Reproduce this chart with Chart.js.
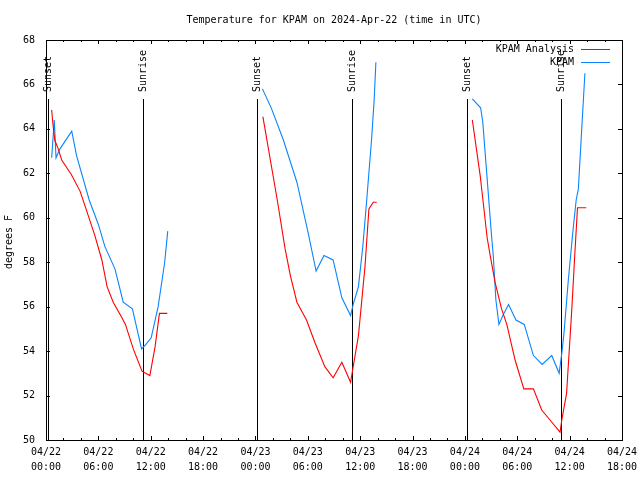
<!DOCTYPE html>
<html lang="en">
<head>
<meta charset="UTF-8">
<title>Temperature for KPAM</title>
<script src="https://cdn.jsdelivr.net/npm/chart.js"></script>
<style>
  body { margin: 0; background: #fff; }
  #chart { display: block; }
</style>
</head>
<body>
<canvas id="chart" width="640" height="480"></canvas>
<script>
  // hours since 04/22 00:00 UTC, temps in F
  const analysisHours1 = [0.65, 0.8, 1.0, 1.4, 1.8, 2.9, 3.9, 4.5, 5.6, 6.4, 7.0, 7.7, 8.7, 9.1, 10.0, 11.0, 11.9, 12.5, 13.0, 13.9];
  const analysisTemps1 = [64.85, 64.2, 63.5, 63.1, 62.6, 61.95, 61.2, 60.5, 59.2, 58.1, 56.9, 56.2, 55.5, 55.2, 54.1, 53.1, 52.9, 54.2, 55.7, 55.7];
  const analysisHours2 = [24.85, 26.5, 27.4, 28.0, 28.75, 29.85, 30.8, 31.95, 32.9, 33.9, 34.9, 35.2, 35.8, 36.55, 37.0, 37.5, 37.9];
  const analysisTemps2 = [64.55, 60.8, 58.6, 57.4, 56.2, 55.4, 54.4, 53.3, 52.8, 53.5, 52.6, 53.3, 54.7, 57.8, 60.4, 60.7, 60.7];
  const analysisHours3 = [48.85, 49.75, 50.55, 50.9, 51.45, 52.2, 52.8, 53.75, 54.75, 55.85, 56.8, 57.75, 58.9, 59.1, 59.65, 60.25, 60.6, 60.9, 61.9];
  const analysisTemps3 = [64.4, 61.9, 59.1, 58.3, 57.1, 55.9, 55.2, 53.6, 52.3, 52.3, 51.35, 50.9, 50.35, 50.9, 52.1, 55.9, 58.4, 60.45, 60.45];

  const obsHours1 = [0.65, 0.95, 1.15, 1.6, 2.95, 3.5, 4.95, 6.0, 6.75, 7.9, 8.85, 9.9, 10.95, 11.45, 12.05, 12.85, 13.6, 13.95];
  const obsTemps1 = [62.7, 64.4, 62.7, 63.1, 63.9, 62.8, 60.8, 59.7, 58.7, 57.7, 56.2, 55.9, 54.1, 54.3, 54.6, 56.0, 58.0, 59.4];
  const obsHours2 = [24.8, 25.85, 27.2, 28.75, 30.05, 30.95, 31.85, 32.9, 33.9, 34.9, 35.2, 35.8, 36.3, 36.75, 37.3, 37.6, 37.8];
  const obsTemps2 = [65.8, 64.9, 63.5, 61.6, 59.3, 57.6, 58.3, 58.1, 56.4, 55.6, 56.1, 56.9, 58.7, 60.8, 63.5, 65.3, 67.0];
  const obsHours3 = [48.85, 49.8, 50.05, 50.5, 51.05, 51.25, 51.55, 51.9, 52.35, 53.0, 53.85, 54.8, 55.85, 56.85, 57.95, 58.8, 59.1, 59.35, 59.85, 60.35, 60.75, 61.0, 61.4, 61.75];
  const obsTemps3 = [65.35, 64.95, 64.3, 62.0, 59.2, 58.3, 56.3, 55.2, 55.6, 56.1, 55.4, 55.2, 53.8, 53.4, 53.8, 53.0, 53.9, 54.8, 57.2, 59.3, 60.8, 61.3, 64.1, 66.5];

  const sunHours = [0.2, 11.15, 24.2, 35.1, 48.2, 59.05];
  const sunLabels = ['Sunset', 'Sunrise', 'Sunset', 'Sunrise', 'Sunset', 'Sunrise'];

  const xTickDates = ['04/22', '04/22', '04/22', '04/22', '04/23', '04/23', '04/23', '04/23', '04/24', '04/24', '04/24', '04/24'];
  const xTickTimes = ['00:00', '06:00', '12:00', '18:00', '00:00', '06:00', '12:00', '18:00', '00:00', '06:00', '12:00', '18:00'];

  const FONT = '"DejaVu Sans Mono", "Liberation Mono", monospace';

  // join segments with a null point so the line breaks between days
  function joinSegments(pairs) {
    const out = [];
    pairs.forEach(([hrs, temps], i) => {
      if (i > 0) out.push({ x: hrs[0] - 0.01, y: null });
      hrs.forEach((h, j) => out.push({ x: h, y: temps[j] }));
    });
    return out;
  }

  const gnuplotLook = {
    id: 'gnuplotLook',
    beforeDatasetsDraw(chart) {
      const { ctx, chartArea: a, scales: { x } } = chart;
      ctx.save();
      ctx.strokeStyle = '#000';
      ctx.fillStyle = '#000';
      ctx.lineWidth = 1;
      ctx.font = '10px ' + FONT;
      sunHours.forEach((h, i) => {
        const px = Math.round(x.getPixelForValue(h)) + 0.5;
        ctx.beginPath();
        ctx.moveTo(px, 99);
        ctx.lineTo(px, a.bottom);
        ctx.stroke();
        ctx.save();
        ctx.translate(px, 92);
        ctx.rotate(-Math.PI / 2);
        ctx.textAlign = 'left';
        ctx.textBaseline = 'middle';
        ctx.fillText(sunLabels[i], 0, 0);
        ctx.restore();
      });
      ctx.restore();
    },
    afterDraw(chart) {
      const { ctx, chartArea: a, scales: { x, y } } = chart;
      ctx.save();
      ctx.strokeStyle = '#000';
      ctx.fillStyle = '#000';
      ctx.lineWidth = 1;

      // frame
      ctx.strokeRect(a.left + 0.5, a.top + 0.5, a.right - a.left, a.bottom - a.top);

      // inward ticks, mirrored
      ctx.beginPath();
      for (let h = 0; h <= 66; h += 2) {
        const px = Math.round(x.getPixelForValue(h)) + 0.5;
        const len = h % 6 === 0 ? 4 : 2;
        ctx.moveTo(px, a.bottom);
        ctx.lineTo(px, a.bottom - len);
        ctx.moveTo(px, a.top);
        ctx.lineTo(px, a.top + len);
      }
      for (let v = 50; v <= 68; v += 2) {
        const py = Math.round(y.getPixelForValue(v)) + 0.5;
        ctx.moveTo(a.left, py);
        ctx.lineTo(a.left + 4, py);
        ctx.moveTo(a.right, py);
        ctx.lineTo(a.right - 4, py);
      }
      ctx.stroke();

      ctx.font = '10px ' + FONT;
      // title
      ctx.textAlign = 'center';
      ctx.textBaseline = 'middle';
      ctx.fillText('Temperature for KPAM on 2024-Apr-22 (time in UTC)', (a.left + a.right) / 2, 20);

      // y axis title
      ctx.save();
      ctx.translate(9, 242);
      ctx.rotate(-Math.PI / 2);
      ctx.fillText('degrees F', 0, 0);
      ctx.restore();

      // key, gnuplot style: text then line sample
      chart.data.datasets.forEach((ds, i) => {
        const ky = 49 + i * 13;
        ctx.textAlign = 'right';
        ctx.fillStyle = '#000';
        ctx.fillText(ds.label, 574, ky);
        ctx.strokeStyle = ds.borderColor;
        ctx.beginPath();
        ctx.moveTo(581, ky + 0.5);
        ctx.lineTo(610, ky + 0.5);
        ctx.stroke();
      });
      ctx.restore();
    }
  };

  new Chart(document.getElementById('chart'), {
    type: 'line',
    data: {
      datasets: [
        {
          label: 'KPAM Analysis',
          data: joinSegments([[analysisHours1, analysisTemps1], [analysisHours2, analysisTemps2], [analysisHours3, analysisTemps3]]),
          borderColor: '#ff0000',
          borderWidth: 1.1,
          pointRadius: 0,
          tension: 0,
          spanGaps: false
        },
        {
          label: 'KPAM',
          data: joinSegments([[obsHours1, obsTemps1], [obsHours2, obsTemps2], [obsHours3, obsTemps3]]),
          borderColor: '#0a84ff',
          borderWidth: 1.1,
          pointRadius: 0,
          tension: 0,
          spanGaps: false
        }
      ]
    },
    options: {
      responsive: false,
      animation: false,
      devicePixelRatio: 1,
      layout: { padding: { left: 0, right: 18, top: 40, bottom: 0 } },
      plugins: {
        legend: { display: false },
        title: { display: false },
        tooltip: { enabled: false }
      },
      scales: {
        x: {
          type: 'linear',
          min: 0,
          max: 66,
          grid: { display: false, drawTicks: false },
          border: { display: false },
          afterFit: s => { s.height = 40; s.paddingLeft = 0; s.paddingRight = 0; },
          ticks: {
            stepSize: 6,
            autoSkip: false,
            maxRotation: 0,
            padding: 5,
            color: '#000',
            font: { family: FONT, size: 10, lineHeight: 1.5 },
            callback: v => {
              const i = Math.round(v / 6);
              return [xTickDates[i], xTickTimes[i]];
            }
          }
        },
        y: {
          min: 50,
          max: 68,
          grid: { display: false, drawTicks: false },
          border: { display: false },
          afterFit: s => { s.width = 46; },
          ticks: {
            stepSize: 2,
            padding: 11,
            color: '#000',
            font: { family: FONT, size: 10 }
          }
        }
      }
    },
    plugins: [gnuplotLook]
  });
</script>
</body>
</html>
